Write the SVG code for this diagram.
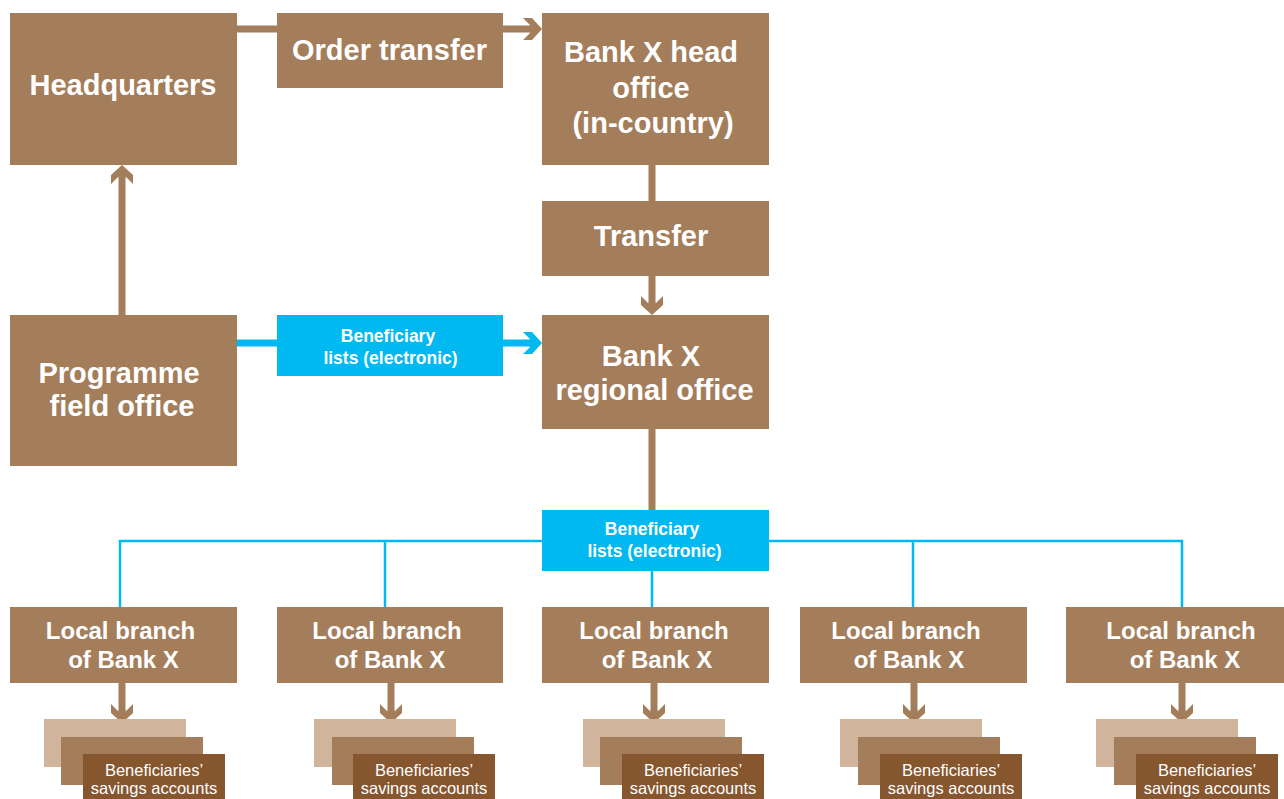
<svg xmlns="http://www.w3.org/2000/svg" width="1284" height="799" viewBox="0 0 1284 799">
<style>
.box{fill:#A47D5A}
.cy{fill:#00B9F1}
.light{fill:#D0B49B}
.dark{fill:#86562F}
.bc{stroke:#A47D5A;stroke-width:7;fill:none}
.cc{stroke:#00B9F1;stroke-width:7;fill:none}
.tl{stroke:#00B9F1;stroke-width:2.5;fill:none}
text{font-family:"Liberation Sans",Arial,sans-serif;fill:#fff;text-anchor:middle}
.t1{font-size:29px;font-weight:bold}
.t2{font-size:24px;font-weight:bold}
.t3{font-size:17.5px;font-weight:bold}
.t4{font-size:16.5px}
</style>
<defs>
<marker id="ab" markerUnits="userSpaceOnUse" viewBox="-20 -20 40 40" markerWidth="40" markerHeight="40" refX="-12" refY="0" orient="auto">
<path d="M0,0 L-10,-11 L-19,-11 L-11.5,-3.5 L-13,-3.5 L-13,3.5 L-11.5,3.5 L-19,11 L-10,11 Z" fill="#A47D5A"/>
</marker>
<marker id="ac" markerUnits="userSpaceOnUse" viewBox="-20 -20 40 40" markerWidth="40" markerHeight="40" refX="-12" refY="0" orient="auto">
<path d="M0,0 L-10,-11 L-19,-11 L-11.5,-3.5 L-13,-3.5 L-13,3.5 L-11.5,3.5 L-19,11 L-10,11 Z" fill="#00B9F1"/>
</marker>
</defs>
<g id="connectors">
<path class="bc" d="M237,29 H530" marker-end="url(#ab)"/>
<path class="bc" d="M122,315 V177" marker-end="url(#ab)"/>
<path class="bc" d="M652,165 V201"/>
<path class="bc" d="M652,276 V303" marker-end="url(#ab)"/>
<path class="cc" d="M237,343 H530" marker-end="url(#ac)"/>
<path class="bc" d="M652,428 V510"/>
<path class="tl" d="M120,607 V541 H1182 V607"/>
<path class="tl" d="M385,541 V607"/>
<path class="tl" d="M652,570 V607"/>
<path class="tl" d="M913,541 V607"/>
<path class="bc" d="M122,683 V711" marker-end="url(#ab)"/>
<path class="bc" d="M391,683 V711" marker-end="url(#ab)"/>
<path class="bc" d="M654,683 V711" marker-end="url(#ab)"/>
<path class="bc" d="M914,683 V711" marker-end="url(#ab)"/>
<path class="bc" d="M1182,683 V711" marker-end="url(#ab)"/>
</g>
<g id="headquarters"><rect class="box" x="10" y="13" width="227" height="152"/><text class="t1" x="123" y="95">Headquarters</text></g>
<g id="order-transfer"><rect class="box" x="277" y="13" width="226" height="75"/><text class="t1" x="389.5" y="60">Order transfer</text></g>
<g id="head-office"><rect class="box" x="542" y="13" width="227" height="152"/><text class="t1" x="651" y="62">Bank X head</text><text class="t1" x="651" y="98">office</text><text class="t1" x="653" y="133">(in-country)</text></g>
<g id="transfer"><rect class="box" x="542" y="201" width="227" height="75"/><text class="t1" x="651" y="246">Transfer</text></g>
<g id="field-office"><rect class="box" x="10" y="315" width="227" height="151"/><text class="t1" x="119" y="383">Programme</text><text class="t1" x="122" y="416">field office</text></g>
<g id="beneficiary-lists-1"><rect class="cy" x="277" y="315" width="226" height="61"/><text class="t3" x="388" y="342">Beneficiary</text><text class="t3" x="390.5" y="364">lists (electronic)</text></g>
<g id="regional-office"><rect class="box" x="542" y="315" width="227" height="114"/><text class="t1" x="651" y="366">Bank X</text><text class="t1" x="654.5" y="400">regional office</text></g>
<g id="beneficiary-lists-2"><rect class="cy" x="542" y="510" width="227" height="61"/><text class="t3" x="652" y="535">Beneficiary</text><text class="t3" x="654.5" y="557">lists (electronic)</text></g>
<g id="branch-1"><rect class="box" x="10" y="607" width="227" height="76"/><text class="t2" x="120.5" y="639">Local branch</text><text class="t2" x="123.5" y="668">of Bank X</text></g>
<g id="branch-2"><rect class="box" x="277" y="607" width="226" height="76"/><text class="t2" x="387" y="639">Local branch</text><text class="t2" x="390" y="668">of Bank X</text></g>
<g id="branch-3"><rect class="box" x="542" y="607" width="227" height="76"/><text class="t2" x="654" y="639">Local branch</text><text class="t2" x="657" y="668">of Bank X</text></g>
<g id="branch-4"><rect class="box" x="800" y="607" width="227" height="76"/><text class="t2" x="906" y="639">Local branch</text><text class="t2" x="909" y="668">of Bank X</text></g>
<g id="branch-5"><rect class="box" x="1066" y="607" width="227" height="76"/><text class="t2" x="1181" y="639">Local branch</text><text class="t2" x="1185" y="668">of Bank X</text></g>
<g id="accounts-1"><rect class="light" x="44" y="719" width="142" height="48"/><rect class="box" x="61" y="737" width="142" height="48"/><rect class="dark" x="83" y="754" width="142" height="46"/><text class="t4" x="154" y="776">Beneficiaries’</text><text class="t4" x="154" y="794">savings accounts</text></g>
<g id="accounts-2"><rect class="light" x="314" y="719" width="142" height="48"/><rect class="box" x="332" y="737" width="142" height="48"/><rect class="dark" x="353" y="754" width="142" height="46"/><text class="t4" x="424" y="776">Beneficiaries’</text><text class="t4" x="424" y="794">savings accounts</text></g>
<g id="accounts-3"><rect class="light" x="583" y="719" width="142" height="48"/><rect class="box" x="600" y="737" width="142" height="48"/><rect class="dark" x="622" y="754" width="142" height="46"/><text class="t4" x="693" y="776">Beneficiaries’</text><text class="t4" x="693" y="794">savings accounts</text></g>
<g id="accounts-4"><rect class="light" x="840" y="719" width="142" height="48"/><rect class="box" x="858" y="737" width="142" height="48"/><rect class="dark" x="880" y="754" width="142" height="46"/><text class="t4" x="951" y="776">Beneficiaries’</text><text class="t4" x="951" y="794">savings accounts</text></g>
<g id="accounts-5"><rect class="light" x="1096" y="719" width="142" height="48"/><rect class="box" x="1114" y="737" width="142" height="48"/><rect class="dark" x="1136" y="754" width="142" height="46"/><text class="t4" x="1207" y="776">Beneficiaries’</text><text class="t4" x="1207" y="794">savings accounts</text></g>
</svg>
